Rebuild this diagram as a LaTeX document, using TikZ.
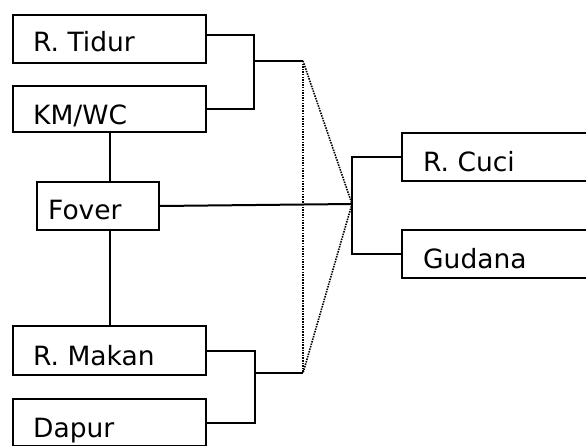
\documentclass[tikz,border=0pt]{standalone}
\usepackage{fontspec}
\setmainfont{DejaVu Sans}
\begin{document}
\begin{tikzpicture}[x=1pt,y=-1pt,
  room/.style={draw, line width=2pt, anchor=north west, inner sep=0pt},
  lbl/.style={anchor=base west, inner sep=0pt, font=\fontsize{26.5}{30}\selectfont},
  link/.style={line width=2pt},
  guide/.style={line width=1.6pt, dash pattern=on 1.5pt off 1.1pt}]
\useasboundingbox (0,0) rectangle (586,446);
\clip (0,0) rectangle (586,446);
% rooms
\node[room, minimum width=193pt, minimum height=48pt] (tidur) at (12,14) {};
\node[room, minimum width=193pt, minimum height=46pt] (kmwc) at (12,85) {};
\node[room, minimum width=122pt, minimum height=48pt] (foyer) at (36,181) {};
\node[room, minimum width=193pt, minimum height=49pt] (makan) at (12,325) {};
\node[room, minimum width=193pt, minimum height=47pt] (dapur) at (12,398) {};
\node[room, minimum width=195pt, minimum height=48pt] (cuci) at (401,132) {};
\node[room, minimum width=195pt, minimum height=48pt] (gudang) at (401,229) {};
% names
\node[lbl] (tidurT) at ([shift={(21pt,12pt)}]tidur.south west) {R. Tidur};
\node[lbl] (kmwcT) at ([shift={(21pt,8pt)}]kmwc.south west) {KM/WC};
\node[lbl] (foyerT) at ([shift={(12pt,11pt)}]foyer.south west) {Fover};
\node[lbl] (makanT) at ([shift={(21pt,11pt)}]makan.south west) {R. Makan};
\node[lbl] (dapurT) at ([shift={(21pt,10pt)}]dapur.south west) {Dapur};
\node[lbl] (cuciT) at ([shift={(22pt,10pt)}]cuci.south west) {R. Cuci};
\node[lbl] (gudangT) at ([shift={(22pt,10pt)}]gudang.south west) {Gudana};
% junction points
\coordinate (jTop) at (254,61);
\coordinate (jBot) at (255,373);
\coordinate (dTop) at (303,61);
\coordinate (dBot) at (303,373);
\coordinate (hub) at (352,204);
% brackets
\draw[link] ([yshift=4pt]tidur.east) -| (jTop) |- (kmwc.east);
\draw[link] (jTop) -- (dTop);
\draw[link] (makan.east) -| (jBot) |- (dapur.east);
\draw[link] (jBot) -- (dBot);
\draw[link] (cuci.west) -| (hub) |- (gudang.west);
\draw[link] (foyer.east) -- (hub);
% vertical links
\draw[link] (kmwc.south) -- (kmwc.south |- foyer.north);
\draw[link] (makan.north |- foyer.south) -- (makan.north);
% dotted guides
\draw[guide] (dTop) -- (dBot);
\draw[guide] (dTop) -- (hub) -- (dBot);
\end{tikzpicture}
\end{document}
